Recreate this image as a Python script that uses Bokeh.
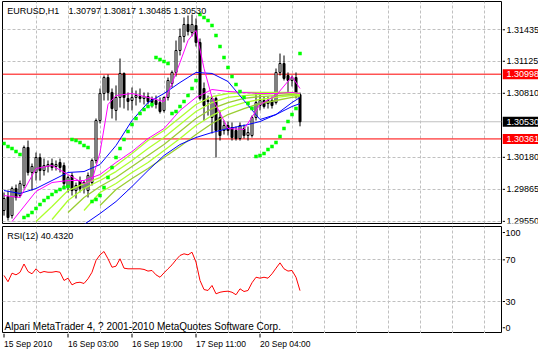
from bokeh.plotting import figure
from bokeh.models import Range1d, FixedTicker, Label, Span, Grid
from bokeh.layouts import column, row
from bokeh.embed import file_html
from bokeh.resources import INLINE
from bokeh.core.properties import value

FONT = "Liberation Sans"

# ---------------- data (EURUSD H1) ----------------
bar_open = [1.29657, 1.29794, 1.29607, 1.29873, 1.29804, 1.29903, 1.30277, 1.30031, 1.30031, 1.30178,
            1.30050, 1.30090, 1.30119, 1.30090, 1.30129, 1.30099, 1.29883, 1.30001, 1.29853, 1.29952,
            1.29873, 1.29853, 1.29932, 1.30149, 1.30542, 1.30808, 1.30965, 1.30818, 1.30641, 1.30769,
            1.31005, 1.30759, 1.30739, 1.30769, 1.30778, 1.30759, 1.30778, 1.30749, 1.30739, 1.30719,
            1.30641, 1.30769, 1.30906, 1.31015, 1.31231, 1.31369, 1.31487, 1.31408, 1.31477, 1.31310,
            1.30857, 1.30739, 1.30572, 1.30759, 1.30572, 1.30444, 1.30493, 1.30473, 1.30444, 1.30365,
            1.30463, 1.30395, 1.30395, 1.30572, 1.30690, 1.30739, 1.30709, 1.30739, 1.30719, 1.31015,
            1.31103, 1.30985, 1.30936, 1.30965, 1.30797]
bar_high = [1.29834, 1.29853, 1.29893, 1.29912, 1.29952, 1.30296, 1.30345, 1.30119, 1.30227, 1.30218,
            1.30168, 1.30149, 1.30168, 1.30149, 1.30168, 1.30129, 1.30001, 1.30031, 1.29932, 1.29991,
            1.29952, 1.30031, 1.30168, 1.30562, 1.30857, 1.30985, 1.30995, 1.30857, 1.30887, 1.31152,
            1.31015, 1.30818, 1.30867, 1.30837, 1.30857, 1.30818, 1.30818, 1.30778, 1.30788, 1.30769,
            1.30778, 1.30965, 1.31034, 1.31329, 1.31447, 1.31556, 1.31575, 1.31585, 1.31546, 1.31349,
            1.30916, 1.30788, 1.30778, 1.30778, 1.30641, 1.30542, 1.30532, 1.30523, 1.30483, 1.30523,
            1.30503, 1.30483, 1.30591, 1.30818, 1.30818, 1.30778, 1.30778, 1.30778, 1.31054, 1.31201,
            1.31182, 1.31015, 1.30985, 1.31015, 1.30817]
bar_low = [1.29607, 1.29558, 1.29578, 1.29755, 1.29785, 1.29873, 1.30001, 1.29853, 1.29952, 1.29952,
           1.30001, 1.30031, 1.30050, 1.30050, 1.30031, 1.29883, 1.29834, 1.29804, 1.29775, 1.29834,
           1.29824, 1.29785, 1.29903, 1.30119, 1.30513, 1.30739, 1.30739, 1.30562, 1.30542, 1.30670,
           1.30660, 1.30641, 1.30641, 1.30690, 1.30719, 1.30700, 1.30700, 1.30670, 1.30660, 1.30611,
           1.30621, 1.30739, 1.30867, 1.30975, 1.31182, 1.31310, 1.31379, 1.31369, 1.31270, 1.30739,
           1.30542, 1.30591, 1.30414, 1.30178, 1.30345, 1.30404, 1.30395, 1.30345, 1.30345, 1.30345,
           1.30365, 1.30345, 1.30375, 1.30542, 1.30641, 1.30660, 1.30660, 1.30660, 1.30700, 1.30985,
           1.30936, 1.30818, 1.30877, 1.30759, 1.30485]
bar_close = [1.29775, 1.29588, 1.29873, 1.29785, 1.29922, 1.30277, 1.30031, 1.30090, 1.30178, 1.30050,
             1.30099, 1.30109, 1.30080, 1.30109, 1.30080, 1.29922, 1.29981, 1.29853, 1.29903, 1.29873,
             1.29932, 1.30001, 1.30149, 1.30542, 1.30808, 1.30965, 1.30818, 1.30660, 1.30769, 1.31005,
             1.30769, 1.30729, 1.30769, 1.30788, 1.30759, 1.30778, 1.30729, 1.30719, 1.30700, 1.30631,
             1.30769, 1.30936, 1.31015, 1.31231, 1.31369, 1.31487, 1.31418, 1.31487, 1.31310, 1.30759,
             1.30690, 1.30729, 1.30759, 1.30444, 1.30395, 1.30493, 1.30444, 1.30375, 1.30365, 1.30493,
             1.30395, 1.30424, 1.30572, 1.30719, 1.30739, 1.30680, 1.30739, 1.30690, 1.31015, 1.31103,
             1.30956, 1.30936, 1.30965, 1.30798, 1.30530]

# Parabolic SAR
sar = [1.30316, 1.30286, 1.30267, 1.30237, 1.30208,
       1.29588, 1.29607, 1.29637, 1.29676, 1.29716, 1.29755, 1.29785, 1.29814, 1.29844, 1.29863, 1.29883, 1.29893,
       1.30355, 1.30345, 1.30326, 1.30296, 1.30277,
       1.29745, 1.29765, 1.29804, 1.29883, 1.29981, 1.30080, 1.30178, 1.30267, 1.30355, 1.30434, 1.30503,
       1.30562, 1.30611, 1.30650, 1.30680, 1.30700,
       1.31162, 1.31142, 1.31123, 1.31103,
       1.30611, 1.30631, 1.30680, 1.30729, 1.30788, 1.30857, 1.30936,
       1.31585, 1.31556, 1.31526, 1.31477, 1.31379, 1.31270, 1.31162, 1.31064, 1.30975, 1.30896, 1.30828,
       1.30769, 1.30709, 1.30660,
       1.30188, 1.30198, 1.30218, 1.30257, 1.30286, 1.30326, 1.30385, 1.30463, 1.30532, 1.30601, 1.30660,
       1.31201]

# moving averages (read at sample bars)
mag_fast_bars = [0, 4, 8, 12, 16, 20, 22, 24, 26, 28, 32, 36, 40, 42, 44, 46, 48, 50, 52, 56, 60, 64, 68, 72, 74]
mag_fast = [1.29804, 1.29785, 1.30070, 1.30099, 1.30011, 1.29922, 1.29952, 1.30227, 1.30700, 1.30788,
            1.30808, 1.30769, 1.30729, 1.30906, 1.31113, 1.31329, 1.31428, 1.31054, 1.30769, 1.30463,
            1.30454, 1.30700, 1.30788, 1.30975, 1.30857]
mag_slow_bars = [2, 4, 8, 12, 16, 20, 24, 28, 32, 36, 40, 44, 48, 52, 56, 60, 64, 68, 72, 74]
mag_slow = [1.29548, 1.29647, 1.29844, 1.29932, 1.29952, 1.29952, 1.30011, 1.30129, 1.30237, 1.30365,
            1.30463, 1.30641, 1.30769, 1.30847, 1.30828, 1.30818, 1.30808, 1.30808, 1.30818, 1.30808]
blue_fast_bars = [0, 4, 8, 12, 16, 20, 24, 28, 32, 36, 40, 44, 48, 52, 56, 60, 64, 68, 72, 74]
blue_fast = [1.29853, 1.29824, 1.29873, 1.29952, 1.30031, 1.30040, 1.30109, 1.30296, 1.30542, 1.30719,
             1.30808, 1.30916, 1.31015, 1.31005, 1.30926, 1.30739, 1.30552, 1.30601, 1.30719, 1.30769]
blue_slow_bars = [20, 24, 28, 32, 36, 40, 44, 48, 52, 56, 60, 64, 68, 72, 74]
blue_slow = [1.29519, 1.29627, 1.29745, 1.29893, 1.30050, 1.30198, 1.30306, 1.30375, 1.30424, 1.30463,
             1.30493, 1.30532, 1.30601, 1.30680, 1.30709]

rib1_bars = [8, 12, 16, 20, 24, 28, 32, 36, 40, 44, 48, 52, 56, 60, 64, 68, 72, 74]
rib1 = [1.29548, 1.29696, 1.29853, 1.29922, 1.29981, 1.30099, 1.30218, 1.30345, 1.30444, 1.30572,
        1.30700, 1.30778, 1.30808, 1.30818, 1.30818, 1.30818, 1.30818, 1.30808]
rib2_bars = [12, 16, 20, 24, 28, 32, 36, 40, 44, 48, 52, 56, 60, 64, 68, 72, 74]
rib2 = [1.29568, 1.29755, 1.29873, 1.29952, 1.30040, 1.30149, 1.30267, 1.30375, 1.30503, 1.30631,
        1.30719, 1.30769, 1.30788, 1.30798, 1.30808, 1.30808, 1.30798]
rib3_bars = [16, 20, 24, 28, 32, 36, 40, 44, 48, 52, 56, 60, 64, 68, 72, 74]
rib3 = [1.29637, 1.29785, 1.29893, 1.29981, 1.30090, 1.30198, 1.30306, 1.30434, 1.30562, 1.30660,
        1.30719, 1.30759, 1.30778, 1.30788, 1.30798, 1.30798]
rib4_bars = [20, 24, 28, 32, 36, 40, 44, 48, 52, 56, 60, 64, 68, 72, 74]
rib4 = [1.29657, 1.29834, 1.29922, 1.30031, 1.30129, 1.30247, 1.30365, 1.30493, 1.30591, 1.30670,
        1.30719, 1.30749, 1.30769, 1.30788, 1.30788]
rib5_bars = [24, 28, 32, 36, 40, 44, 48, 52, 56, 60, 64, 68, 72, 74]
rib5 = [1.29706, 1.29863, 1.29971, 1.30070, 1.30178, 1.30286, 1.30404, 1.30513, 1.30601, 1.30660,
        1.30709, 1.30739, 1.30769, 1.30778]

rsi = [55.0, 49.0, 57.2, 55.6, 58.0, 66.0, 58.8, 56.6, 61.4, 57.5,
       58.8, 58.1, 58.1, 58.8, 58.1, 50.2, 52.4, 46.0, 48.0, 48.5,
       47.3, 51.8, 58.1, 69.4, 74.8, 78.0, 71.0, 62.9, 63.9, 71.0,
       62.0, 61.4, 61.4, 61.4, 61.4, 60.8, 59.2, 59.8, 55.6, 53.3,
       57.5, 61.4, 65.2, 70.0, 74.2, 75.8, 74.8, 77.3, 67.8, 50.2,
       41.5, 40.6, 45.4, 37.4, 38.9, 39.6, 39.9, 38.9, 36.5, 42.2,
       39.6, 40.6, 48.0, 53.3, 52.4, 53.3, 52.4, 56.6, 62.0, 67.1,
       61.4, 59.2, 59.8, 53.3, 40.432]

price_ticks = [1.31435, 1.31125, 1.30810, 1.30180, 1.29865, 1.29550]
level_lines = [1.30998, 1.30361]
last_close = 1.30530
time_ticks = [0, 16, 32, 48, 64]
time_labels = ["15 Sep 2010", "16 Sep 03:00", "16 Sep 19:00", "17 Sep 11:00", "20 Sep 04:00"]
rsi_levels = [70, 30]
rsi_tick_labels = ["100", "70", "30", "0"]
symbol_text = "EURUSD,H1"
ohlc_text = "1.30797 1.30817 1.30485 1.30530"
rsi_title = "RSI(12) 40.4320"
copyright_text = "Alpari MetaTrader 4, ? 2001-2010 MetaQuotes Software Corp."

# ---------------- styling / layout ----------------
X0, X1 = -0.375, 124.375
grid_x = list(range(8, 124, 8))
GRID = "#C0C0C0"
DASH = "3 2"
rsi_label_pos = [96.2, 70, 30, 4.8]   # where MT4 clamps the scale labels


def bare(fig):
    fig.background_fill_color = "white"
    fig.border_fill_color = "white"
    fig.grid.visible = False
    return fig


n = len(bar_open)
idx = list(range(n))

# main price pane
p = figure(width=502, height=225, output_backend="svg", toolbar_location=None,
           x_range=Range1d(X0, X1), y_range=Range1d(1.29529, 1.31713),
           x_axis_type=None, y_axis_type=None,
           min_border_left=2, min_border_right=1, min_border_top=1, min_border_bottom=2)
bare(p)
p.outline_line_color = "black"
p.outline_line_alpha = 1
p.add_layout(Grid(dimension=0, ticker=FixedTicker(ticks=grid_x), grid_line_color=GRID,
                  grid_line_dash=DASH, grid_line_width=1))
p.add_layout(Grid(dimension=1, ticker=FixedTicker(ticks=price_ticks), grid_line_color=GRID,
                  grid_line_dash=DASH, grid_line_width=1))
p.add_layout(Span(location=last_close, dimension="width", line_color="#C0C0C0", line_width=1, level="underlay"))
for lv in level_lines:
    p.add_layout(Span(location=lv, dimension="width", line_color="#FF0000", line_width=1, level="underlay"))

p.segment(x0=idx, y0=bar_low, x1=idx, y1=bar_high, line_color="black", line_width=1)
tops = [max(o, c) for o, c in zip(bar_open, bar_close)]
bots = [min(o, c) for o, c in zip(bar_open, bar_close)]
fills = ["white" if c > o else "black" for o, c in zip(bar_open, bar_close)]
p.vbar(x=idx, width=0.5, top=tops, bottom=bots, fill_color=fills, line_color="black", line_width=1)

for bars, vals, col in [(rib5_bars, rib5, "#9ACD32"), (rib4_bars, rib4, "#ADFF2F"),
                        (rib3_bars, rib3, "#9ACD32"), (rib2_bars, rib2, "#ADFF2F"),
                        (rib1_bars, rib1, "#ADFF2F")]:
    p.line(bars, vals, line_color=col, line_width=1.3)
p.line(blue_slow_bars, blue_slow, line_color="#0000FF", line_width=1)
p.line(blue_fast_bars, blue_fast, line_color="#0000FF", line_width=1)
p.line(mag_slow_bars, mag_slow, line_color="#FF00FF", line_width=1)
p.line(mag_fast_bars, mag_fast, line_color="#FF00FF", line_width=1)
p.scatter(idx, sar, marker="square", size=3.5, fill_color="#00FF00", line_color=None)


def lab(fig, x, y, text, xo=0, yo=0, size="9px"):
    fig.add_layout(Label(x=x, y=y, text=text, x_offset=xo, y_offset=yo, text_font=FONT,
                         text_font_size=size, text_color="black", text_align="left",
                         text_baseline="middle"))


lab(p, X0, 1.31713, symbol_text, xo=4.7, yo=-9.5)
lab(p, X0, 1.31713, ohlc_text, xo=66, yo=-9.5)

# price scale strip
ps = figure(width=36, height=225, output_backend="svg", toolbar_location=None,
            x_range=Range1d(0, 36), y_range=p.y_range, x_axis_type=None, y_axis_type=None,
            min_border_left=0, min_border_right=0, min_border_top=1, min_border_bottom=2)
bare(ps)
ps.outline_line_color = None
ps.segment(x0=0, x1=2.5, y0=price_ticks, y1=price_ticks, line_color="black", line_width=1)
ps.text(x=4, y=price_ticks, text=["%.5f" % t for t in price_ticks], text_font=value(FONT),
        text_font_size="9px", text_color="black", text_align="left", text_baseline="middle")
box_vals = [level_lines[0], last_close, level_lines[1]]
ps.rect(x=18, y=box_vals, width=36, height=10, width_units="screen", height_units="screen",
        fill_color=["#FF0000", "black", "#FF0000"], line_color=None)
ps.text(x=4, y=box_vals, text=["%.5f" % t for t in box_vals], text_font=value(FONT),
        text_font_size="9px", text_color="white", text_align="left", text_baseline="middle")

# RSI pane
q = figure(width=502, height=108, output_backend="svg", toolbar_location=None,
           x_range=p.x_range, y_range=Range1d(-0.7, 102),
           x_axis_type=None, y_axis_type=None,
           min_border_left=2, min_border_right=1, min_border_top=1, min_border_bottom=0)
bare(q)
q.outline_line_color = "black"
q.outline_line_alpha = 1
q.add_layout(Grid(dimension=0, ticker=FixedTicker(ticks=grid_x), grid_line_color=GRID,
                  grid_line_dash=DASH, grid_line_width=1))
q.add_layout(Grid(dimension=1, ticker=FixedTicker(ticks=rsi_levels), grid_line_color=GRID,
                  grid_line_dash=DASH, grid_line_width=1))
q.line(idx, rsi, line_color="#FF0000", line_width=1)
lab(q, X0, 102, rsi_title, xo=4.7, yo=-9.5)
lab(q, X0, -0.7, copyright_text, xo=2, yo=7.5, size="10px")

qs = figure(width=36, height=108, output_backend="svg", toolbar_location=None,
            x_range=Range1d(0, 36), y_range=q.y_range, x_axis_type=None, y_axis_type=None,
            min_border_left=0, min_border_right=0, min_border_top=1, min_border_bottom=0)
bare(qs)
qs.outline_line_color = None
qs.segment(x0=0, x1=2.5, y0=rsi_label_pos, y1=rsi_label_pos, line_color="black", line_width=1)
qs.text(x=3, y=rsi_label_pos, text=rsi_tick_labels, text_font=value(FONT),
        text_font_size="9px", text_color="black", text_align="left", text_baseline="middle")

# time scale strip
ts = figure(width=538, height=18, output_backend="svg", toolbar_location=None,
            x_range=p.x_range, y_range=Range1d(0, 18), x_axis_type=None, y_axis_type=None,
            min_border_left=2, min_border_right=37, min_border_top=0, min_border_bottom=0)
bare(ts)
ts.outline_line_color = None
ts.segment(x0=time_ticks, x1=time_ticks, y0=18, y1=14, line_color="black", line_width=1)
ts.text(x=time_ticks, y=7.5, text=time_labels, text_font=value(FONT), text_font_size="8.5px",
        text_color="black", text_align="left", text_baseline="middle")

layout = column(row(p, ps, spacing=0), row(q, qs, spacing=0), ts, spacing=0)
open("out.html", "w").write(file_html(layout, INLINE))
